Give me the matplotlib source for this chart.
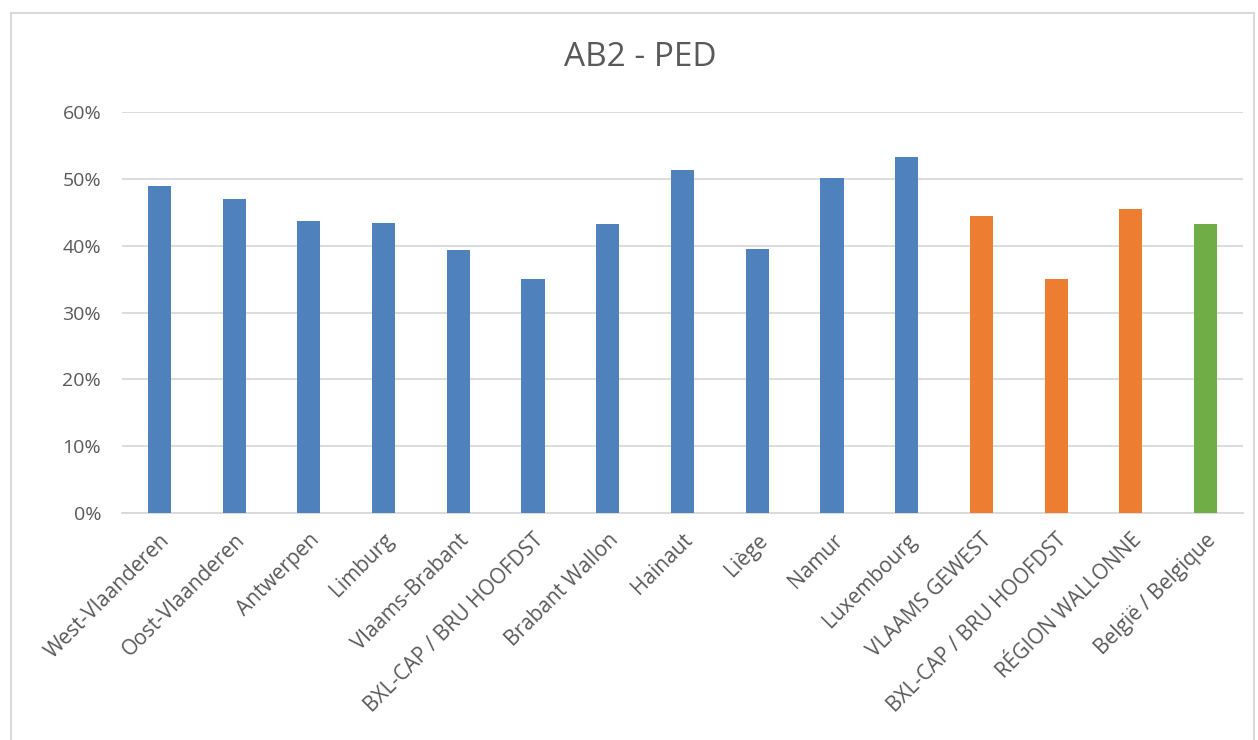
import matplotlib.pyplot as plt
from matplotlib.patches import Rectangle
from matplotlib.ticker import PercentFormatter

# data
categories = ['West-Vlaanderen', 'Oost-Vlaanderen', 'Antwerpen', 'Limburg', 'Vlaams-Brabant',
              'BXL-CAP / BRU HOOFDST', 'Brabant Wallon', 'Hainaut', 'Liège', 'Namur',
              'Luxembourg', 'VLAAMS GEWEST', 'BXL-CAP / BRU HOOFDST', 'RÉGION WALLONNE',
              'België / Belgique']
values = [48.9, 47.0, 43.7, 43.4, 39.4, 35.0, 43.2, 51.3, 39.5, 50.1, 53.3, 44.4, 35.0, 45.5, 43.2]
groups = ['prov'] * 11 + ['region'] * 3 + ['country']

group_colors = {'prov': '#4f81bd', 'region': '#ed7d31', 'country': '#70ad47'}
text_color = '#595959'

plt.rcParams['font.family'] = ['Open Sans', 'DejaVu Sans']

fig = plt.figure(figsize=(12.58, 7.4), dpi=100)
ax = fig.add_axes([122 / 1258, 1 - 513 / 740, (1243 - 122) / 1258, (513 - 112) / 740])

# outer chart border
fig.patches.append(Rectangle((11 / 1258, -0.05), (1254 - 11) / 1258, 1.05 - 13 / 740,
                             transform=fig.transFigure, fill=False,
                             edgecolor='#d9d9d9', linewidth=1.5))

x = list(range(len(categories)))
colors = [group_colors[g] for g in groups]
ax.bar(x, values, width=0.31, color=colors, zorder=3)

ax.set_xlim(-0.5, len(categories) - 0.5)
ax.set_ylim(0, 60)
ax.set_yticks(range(0, 61, 10))
ax.yaxis.set_major_formatter(PercentFormatter(decimals=0))
ax.grid(axis='y', color='#d9d9d9', linewidth=1.3, zorder=0)

for side in ['top', 'right', 'left']:
    ax.spines[side].set_visible(False)
ax.spines['bottom'].set_color('#d9d9d9')
ax.spines['bottom'].set_linewidth(1.3)

ax.set_xticks(x)
ax.set_xticklabels(categories, rotation=45, ha='right', rotation_mode='anchor')
ax.tick_params(axis='both', length=0, colors=text_color)
ax.tick_params(axis='x', pad=12, labelsize=15)
ax.tick_params(axis='y', pad=15, labelsize=14)

fig.text(640 / 1258, 1 - 58 / 740, 'AB2 - PED', ha='center', va='center',
         fontsize=24, color=text_color)

fig.savefig('out.png', dpi=100)
